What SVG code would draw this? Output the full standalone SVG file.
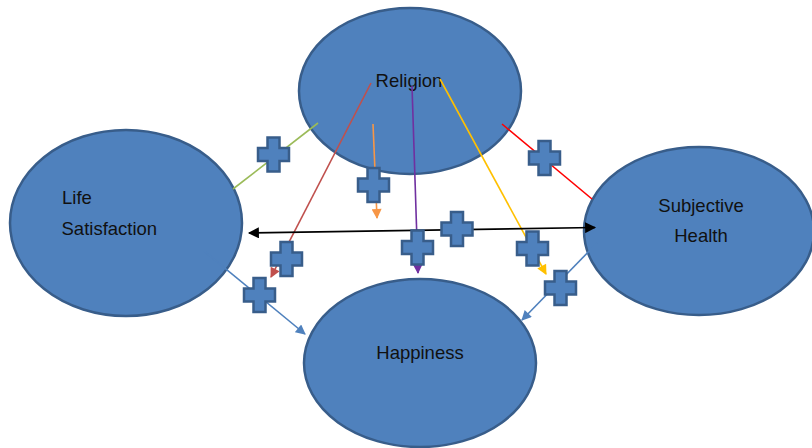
<svg xmlns="http://www.w3.org/2000/svg" width="812" height="448" viewBox="0 0 812 448">
<defs>
<style>
.node{fill:#4F81BD;stroke:#385D8A;stroke-width:2.5}
.lbl{font-family:"Liberation Sans",Arial,sans-serif;font-size:18.5px;fill:#111}
.plus{fill:#4F81BD;stroke:#385D8A;stroke-width:2.5}
.c{fill:none;stroke-width:1.6}
</style>
<path id="plus" d="M-6,-17H6V-6.5H15.5V6.5H6V17H-6V6.5H-15.5V-6.5H-6Z"/>
<marker id="aBrown" viewBox="0 0 10 10" refX="9" refY="5" markerWidth="11" markerHeight="10" markerUnits="userSpaceOnUse" orient="auto"><path d="M0,0L10,5L0,10Z" fill="#C0504D"/></marker>
<marker id="aOrange" viewBox="0 0 10 10" refX="9" refY="5" markerWidth="11" markerHeight="10" markerUnits="userSpaceOnUse" orient="auto"><path d="M0,0L10,5L0,10Z" fill="#F79646"/></marker>
<marker id="aPurple" viewBox="0 0 10 10" refX="9" refY="5" markerWidth="11" markerHeight="10" markerUnits="userSpaceOnUse" orient="auto"><path d="M0,0L10,5L0,10Z" fill="#7030A0"/></marker>
<marker id="aYellow" viewBox="0 0 10 10" refX="9" refY="5" markerWidth="11" markerHeight="10" markerUnits="userSpaceOnUse" orient="auto"><path d="M0,0L10,5L0,10Z" fill="#FFC000"/></marker>
<marker id="aBlue" viewBox="0 0 10 10" refX="9" refY="5" markerWidth="11" markerHeight="10" markerUnits="userSpaceOnUse" orient="auto"><path d="M0,0L10,5L0,10Z" fill="#4F81BD"/></marker>
<marker id="aBlack" viewBox="0 0 10 10" refX="9" refY="5" markerWidth="12" markerHeight="11" markerUnits="userSpaceOnUse" orient="auto-start-reverse"><path d="M0,0L10,5L0,10Z" fill="#000"/></marker>
</defs>
<rect width="812" height="448" fill="#fff"/>
<g id="religion"><ellipse class="node" cx="410" cy="91" rx="111" ry="83"/><text class="lbl" x="409" y="87" text-anchor="middle">Religion</text></g>
<g id="life-satisfaction"><ellipse class="node" cx="126" cy="223" rx="116" ry="93"/><text class="lbl" x="62" y="204">Life</text><text class="lbl" x="61.5" y="235">Satisfaction</text></g>
<g id="subjective-health"><ellipse class="node" cx="699" cy="231" rx="115" ry="84"/><text class="lbl" x="701" y="212" text-anchor="middle">Subjective</text><text class="lbl" x="701" y="242" text-anchor="middle">Health</text></g>
<g id="happiness"><ellipse class="node" cx="420" cy="363" rx="116" ry="84"/><text class="lbl" x="420" y="359" text-anchor="middle">Happiness</text></g>
<g id="connectors">
<line class="c" x1="318" y1="123" x2="233" y2="189" stroke="#9BBB59"/>
<line class="c" x1="371" y1="83" x2="271" y2="277" stroke="#C0504D" marker-end="url(#aBrown)"/>
<line class="c" x1="373" y1="124" x2="377" y2="218" stroke="#F79646" marker-end="url(#aOrange)"/>
<line class="c" x1="412" y1="86" x2="418" y2="273" stroke="#7030A0" marker-end="url(#aPurple)"/>
<line class="c" x1="440" y1="79" x2="546" y2="274" stroke="#FFC000" marker-end="url(#aYellow)"/>
<line class="c" x1="502" y1="124" x2="592" y2="199" stroke="#FF0000"/>
<line class="c" x1="249" y1="233" x2="595" y2="227.5" stroke="#000" marker-start="url(#aBlack)" marker-end="url(#aBlack)"/>
<line class="c" x1="204" y1="251" x2="305" y2="334" stroke="#4F81BD" marker-end="url(#aBlue)"/>
<line class="c" x1="597" y1="243" x2="522" y2="320" stroke="#4F81BD" marker-end="url(#aBlue)"/>
</g>
<g id="plus-signs">
<use href="#plus" class="plus" x="273.5" y="154.5"/>
<use href="#plus" class="plus" x="373.5" y="185"/>
<use href="#plus" class="plus" x="417.5" y="247.5"/>
<use href="#plus" class="plus" x="286.5" y="259"/>
<use href="#plus" class="plus" x="259.5" y="295"/>
<use href="#plus" class="plus" x="544.5" y="158"/>
<use href="#plus" class="plus" x="457" y="229"/>
<use href="#plus" class="plus" x="532.5" y="248.5"/>
<use href="#plus" class="plus" x="560.5" y="288"/>
</g>
</svg>
